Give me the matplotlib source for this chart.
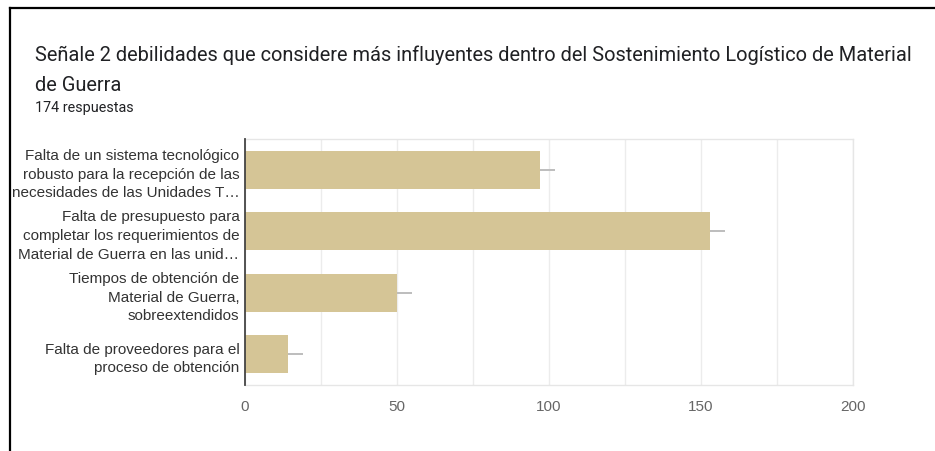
import numpy as np
import matplotlib
matplotlib.use("Agg")
import matplotlib.pyplot as plt
from matplotlib.lines import Line2D
from matplotlib.ticker import MultipleLocator

# answers to the survey question (count of mentions per option)
categorias = [
    "Falta de un sistema tecnológico\nrobusto para la recepción de las\nnecesidades de las Unidades T…",
    "Falta de presupuesto para\ncompletar los requerimientos de\nMaterial de Guerra en las unid…",
    "Tiempos de obtención de\nMaterial de Guerra,\nsobreextendidos",
    "Falta de proveedores para el\nproceso de obtención",
]
respuestas = [97, 153, 50, 14]
# short grey stick drawn to the right of every bar
extension = [5, 5, 5, 5]
ticks_x = [0, 50, 100, 150, 200]

titulo = ("Señale 2 debilidades que considere más influyentes dentro del "
          "Sostenimiento Logístico de Material\nde Guerra")
subtitulo = "174 respuestas"

color_barra = "#d5c596"
color_linea = "#bdbdbd"

W, H = 935, 452
fig = plt.figure(figsize=(W / 100, H / 100), dpi=100)
fig.patch.set_facecolor("white")

# black frame on top and left side
fig.add_artist(Line2D([10 / W, 1], [1 - 9 / H, 1 - 9 / H], color="black", lw=1.6))
fig.add_artist(Line2D([10 / W, 10 / W], [0, 1 - 9 / H], color="black", lw=1.6))

fig.text(35 / W, 1 - 70 / H, titulo, fontsize=14.4, family="Roboto",
         color="#202124", va="center", ha="left", linespacing=1.7)
fig.text(35 / W, 1 - 108 / H, subtitulo, fontsize=10.4, family="Roboto",
         color="#202124", va="center", ha="left")

left, right, top, bottom = 245, 853, 140, 386
ax = fig.add_axes([left / W, 1 - bottom / H, (right - left) / W, (bottom - top) / H])

y = np.arange(len(categorias))
ax.barh(y, respuestas, height=0.62, color=color_barra, zorder=2)
ax.errorbar(respuestas, y, xerr=[np.zeros(len(extension)), extension],
            fmt="none", ecolor=color_linea, elinewidth=1.4, capsize=0, zorder=3)

ax.set_xlim(0, 200)
ax.set_ylim(len(categorias) - 0.5, -0.5)
ax.set_yticks(y)
ax.set_yticklabels(categorias, family="Liberation Sans", fontsize=11,
                   color="#333333", linespacing=1.42)
ax.set_xticks(ticks_x)
ax.set_xticklabels([str(t) for t in ticks_x], family="Liberation Sans",
                   fontsize=11, color="#666666")
ax.xaxis.set_minor_locator(MultipleLocator(25))
ax.tick_params(axis="both", which="both", length=0)
ax.tick_params(axis="x", pad=10)
ax.tick_params(axis="y", pad=4)
ax.grid(axis="x", which="both", color="#ececec", lw=1, zorder=0)

for lado in ["top", "right", "bottom"]:
    ax.spines[lado].set_color("#e6e6e6")
    ax.spines[lado].set_linewidth(1)
ax.spines["left"].set_color("#444444")
ax.spines["left"].set_linewidth(1.3)
ax.spines["left"].set_zorder(4)

fig.savefig("out.png", dpi=100)
